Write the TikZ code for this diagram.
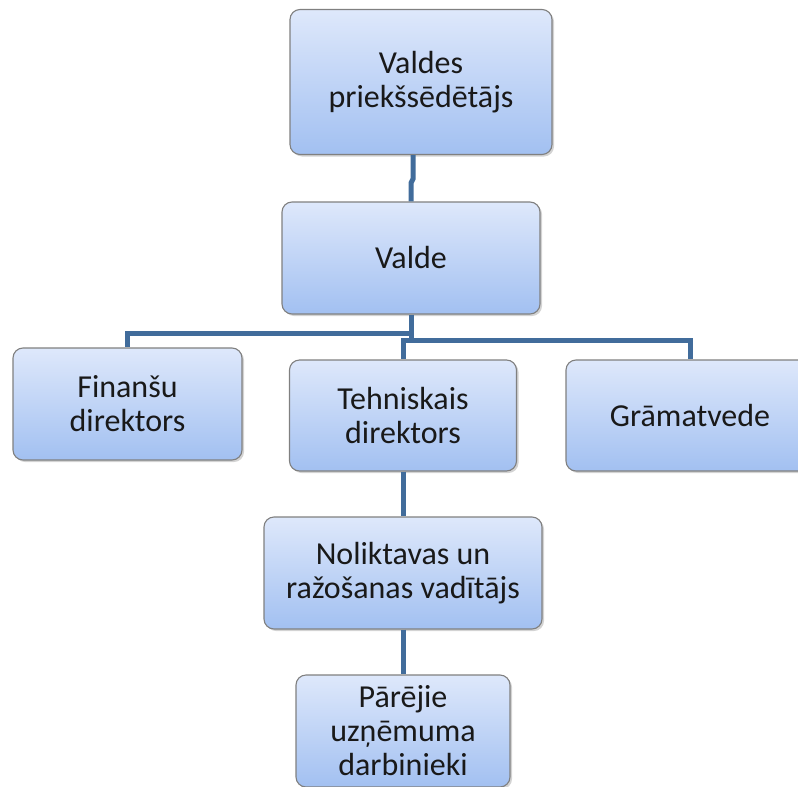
\documentclass[tikz,border=0pt]{standalone}
\usepackage{fontspec}
\setmainfont{Carlito}
\usetikzlibrary{shadows}

\definecolor{boxtop}{RGB}{222,232,251}
\definecolor{boxbot}{RGB}{162,192,241}
\definecolor{boxline}{RGB}{128,128,128}
\definecolor{linkblue}{RGB}{65,108,155}

\tikzset{
  unit/.style={draw=boxline, line width=1.1pt, rounded corners=10pt,
    top color=boxtop, bottom color=boxbot, align=center,
    text=black!90, inner sep=4pt,
    drop shadow={shadow xshift=2pt, shadow yshift=-2pt, opacity=0.35}},
  conn/.style={draw=linkblue, line width=5pt}
}

\begin{document}
\begin{tikzpicture}[x=1pt,y=-1pt]
\fontsize{32}{34}\selectfont
\useasboundingbox (0,0) rectangle (798,787);

\node[unit, minimum width=262pt, minimum height=145pt] (vp) at (421,82) {Valdes\\priekšsēdētājs};
\node[unit, minimum width=258pt, minimum height=112pt] (val) at (411,258) {Valde};
\node[unit, minimum width=229pt, minimum height=112pt] (fin) at (127.5,404) {Finanšu\\direktors};
\node[unit, minimum width=227pt, minimum height=111pt] (teh) at (403,415.5) {Tehniskais\\direktors};
\node[unit, minimum width=248pt, minimum height=111pt] (gra) at (690,415.5) {Grāmatvede};
\node[unit, minimum width=278pt, minimum height=112pt] (nol) at (403,573) {Noliktavas un\\ražošanas vadītājs};
\node[unit, minimum width=214pt, minimum height=112pt] (par) at (403,731) {Pārējie\\uzņēmuma\\darbinieki};

\coordinate (j1) at (411,333);
\coordinate (j2) at (411,340);

\path[conn] ([xshift=-8pt]vp.south) -- ++(0,24) -- ++(-2,4) -- (val.north);
\path[conn] (val.south) -- (j1) -| (fin.north);
\path[conn] (j1) -- (j2) -| (gra.north);
\path[conn] (j2) -| (teh.north);
\path[conn] (teh.south) -- (nol.north);
\path[conn] (nol.south) -- (par.north);
\end{tikzpicture}
\end{document}
